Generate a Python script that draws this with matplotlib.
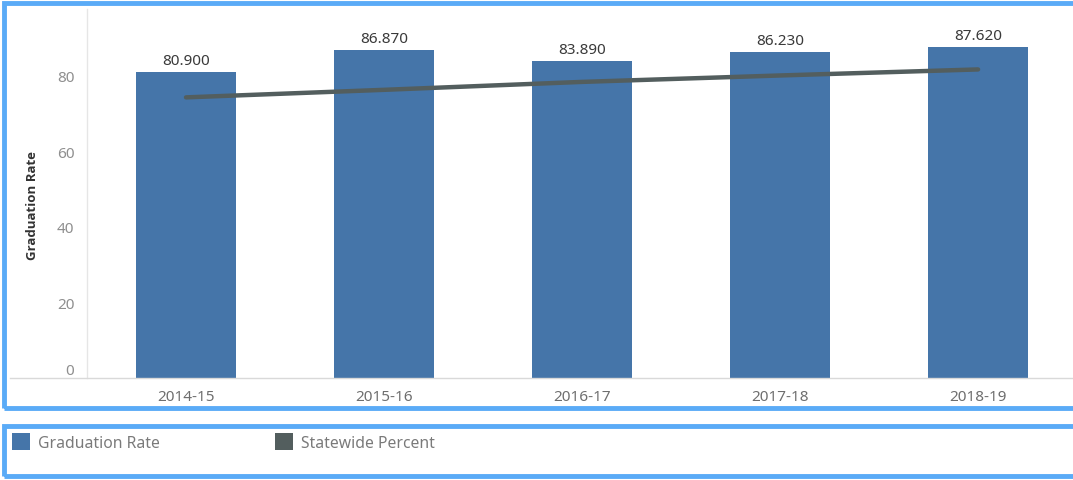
import matplotlib
matplotlib.use("Agg")
import matplotlib.pyplot as plt
from matplotlib.patches import Rectangle
from matplotlib.lines import Line2D

years = ["2014-15", "2015-16", "2016-17", "2017-18", "2018-19"]
grad_rate = [80.900, 86.870, 83.890, 86.230, 87.620]
statewide = [74.3, 76.3, 78.4, 80.1, 81.7]
y_ticks = [0, 20, 40, 60, 80]

BAR_COL = "#4575a9"
LINE_COL = "#535e5e"
FRAME_COL = "#5aabf7"
TXT_GRAY = "#8f8f8f"

plt.rcParams["font.family"] = ["Noto Sans", "DejaVu Sans"]

W, H = 1073, 481
fig = plt.figure(figsize=(W / 100, H / 100), dpi=100)
fig.patch.set_facecolor("white")

def px(x0, y0, x1, y1):
    # pixel box (top-left origin) -> figure fraction rect
    return [x0 / W, 1 - y1 / H, (x1 - x0) / W, (y1 - y0) / H]

ax = fig.add_axes(px(87, 10, 1066, 379))
xs = list(range(len(years)))
bars = ax.bar(xs, grad_rate, width=0.505, color=BAR_COL, zorder=2)
ax.plot(xs, statewide, color=LINE_COL, lw=3.2, solid_capstyle="round", zorder=3)

for b, v in zip(bars, grad_rate):
    ax.annotate(f"{v:.3f}", (b.get_x() + b.get_width() / 2, v), xytext=(0, 3),
                textcoords="offset points", ha="center", va="bottom",
                fontsize=11, color="#3a3a3a")

ax.set_xlim(-0.5, 4.444)
ax.set_ylim(0, 97.7)
ax.set_yticks(y_ticks)
ax.set_yticklabels([str(t) for t in y_ticks])
ax.set_xticks(xs)
ax.set_xticklabels(years)
ax.tick_params(axis="y", length=0, pad=9, labelsize=11, labelcolor=TXT_GRAY)
ax.tick_params(axis="x", length=0, pad=8, labelsize=11, labelcolor="#6e6e6e")
ax.get_yticklabels()[0].set_verticalalignment("bottom")

for s in ["top", "right", "bottom"]:
    ax.spines[s].set_visible(False)
ax.spines["left"].set_color("#e6e6e6")
ax.spines["left"].set_linewidth(1)

ax.set_ylabel("Graduation Rate", fontsize=9.5, fontweight="bold", color="#333333",
              family=["Open Sans", "DejaVu Sans"])
ax.yaxis.set_label_coords(-(87 - 39) / 979, 0.47)

# baseline running across the whole chart panel
fig.add_artist(Line2D([10 / W, 1], [1 - 379 / H, 1 - 379 / H],
                      color="#d9d9d9", lw=1, transform=fig.transFigure))

# panel frames
for (x0, y0, x1, y1) in [(4, 4, 1080, 409), (4, 427, 1080, 477)]:
    r = px(x0, y0, x1, y1)
    fig.add_artist(Rectangle((r[0], r[1]), r[2], r[3], transform=fig.transFigure,
                             fill=False, ec=FRAME_COL, lw=3.5))

# legend entries
for x0, label, col in [(12, "Graduation Rate", BAR_COL), (275, "Statewide Percent", LINE_COL)]:
    r = px(x0, 434, x0 + 18, 451)
    fig.add_artist(Rectangle((r[0], r[1]), r[2], r[3], transform=fig.transFigure,
                             fc=col, ec="none"))
    fig.text((x0 + 26) / W, 1 - 444 / H, label, fontsize=11.3, color="#7a7a7a",
             va="center", ha="left")

fig.savefig("out.png", dpi=100, facecolor="white")
